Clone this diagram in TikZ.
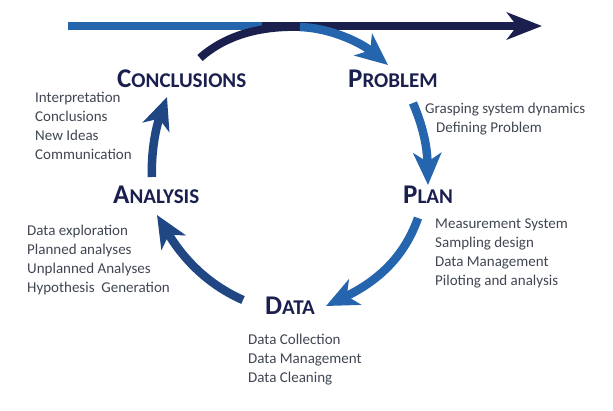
\documentclass[tikz,border=0pt]{standalone}
\usepackage{fontspec}
\setmainfont{Carlito}
\usetikzlibrary{arrows.meta}
\definecolor{navy}{HTML}{1B1F4E}
\definecolor{cycleblue}{HTML}{2565AE}
\definecolor{textgray}{HTML}{404652}
\colorlet{mixblue}{navy!45!cycleblue}
\newcommand{\stagename}[2]{{\fontsize{27}{27}\selectfont #1}{\fontsize{21}{21}\selectfont #2}}

\begin{document}
\begin{tikzpicture}[x=1pt,y=-1pt]

    % Styles
    \tikzstyle{stage} = [anchor=base west, inner sep=0, font=\bfseries, text=navy]
    \tikzstyle{tasks} = [anchor=base west, inner sep=0, align=left, text=textgray, font=\fontsize{15}{18.7}\selectfont]
    \tikzstyle{shaft} = [line width=8pt]
    \tikzstyle{flow} = [line width=8.5pt, -{Stealth[length=32pt, width=28pt, inset=9pt]}]

    \useasboundingbox (0,0) rectangle (613,410);

    % Noeuds
    \node (conclusions) [stage] at (117,87) {\stagename{C}{ONCLUSIONS}};
    \node (problem) [stage] at (348,87) {\stagename{P}{ROBLEM}};
    \node (plan) [stage] at (403,203) {\stagename{P}{LAN}};
    \node (data) [stage] at (265,314) {\stagename{D}{ATA}};
    \node (analysis) [stage] at (113,203) {\stagename{A}{NALYSIS}};

    % (base = derniere ligne)
    \node (conclusionstasks) [tasks] at (35,159) {Interpretation\\Conclusions\\New Ideas\\Communication};
    \node (problemtasks) [tasks] at (425,132) {Grasping system dynamics\\\hspace*{11pt}Defining Problem};
    \node (plantasks) [tasks] at (435,285) {Measurement System\\Sampling design\\Data Management\\Piloting and analysis};
    \node (datatasks) [tasks] at (248,382) {Data Collection\\Data Management\\Data Cleaning};
    \node (analysistasks) [tasks] at (27,292) {Data exploration\\Planned analyses\\Unplanned Analyses\\Hypothesis\ \ Generation};

    % Extremites
    \coordinate (timestart) at (68,26);
    \coordinate (timemid) at (262,26);
    \coordinate (timeend) at (542,26);
    \coordinate (cstart) at (200,58);
    \coordinate (ctop) at (300,27);
    \coordinate (ctip) at (388,65);
    \coordinate (pstart) at (413,103);
    \coordinate (ptip) at (428,185);
    \coordinate (lstart) at (418,218);
    \coordinate (ltip) at (326,306);
    \coordinate (dstart) at (243,300);
    \coordinate (dtip) at (157,215);
    \coordinate (astart) at (152,177);
    \coordinate (atip) at (167,97);

    % Fleches
    \draw [shaft, cycleblue] (timestart) -- (timemid);
    \draw [shaft, navy, -{Stealth[length=35pt, width=27pt, inset=10pt]}] (timemid) -- (timeend);
    \draw [shaft, navy] (cstart) .. controls (228,33) and (265,26) .. (ctop);
    \draw [flow, cycleblue] (ctop) .. controls (330,28) and (360,42) .. (ctip);
    \draw [flow, cycleblue] (pstart) .. controls (420,120) and (427,140) .. (ptip);
    \draw [flow, cycleblue] (lstart) .. controls (405,255) and (380,280) .. (ltip);
    \draw [flow, mixblue] (dstart) .. controls (220,290) and (190,270) .. (dtip);
    \draw [flow, mixblue] (astart) .. controls (151,155) and (155,130) .. (atip);
    \end{tikzpicture}
\end{document}
